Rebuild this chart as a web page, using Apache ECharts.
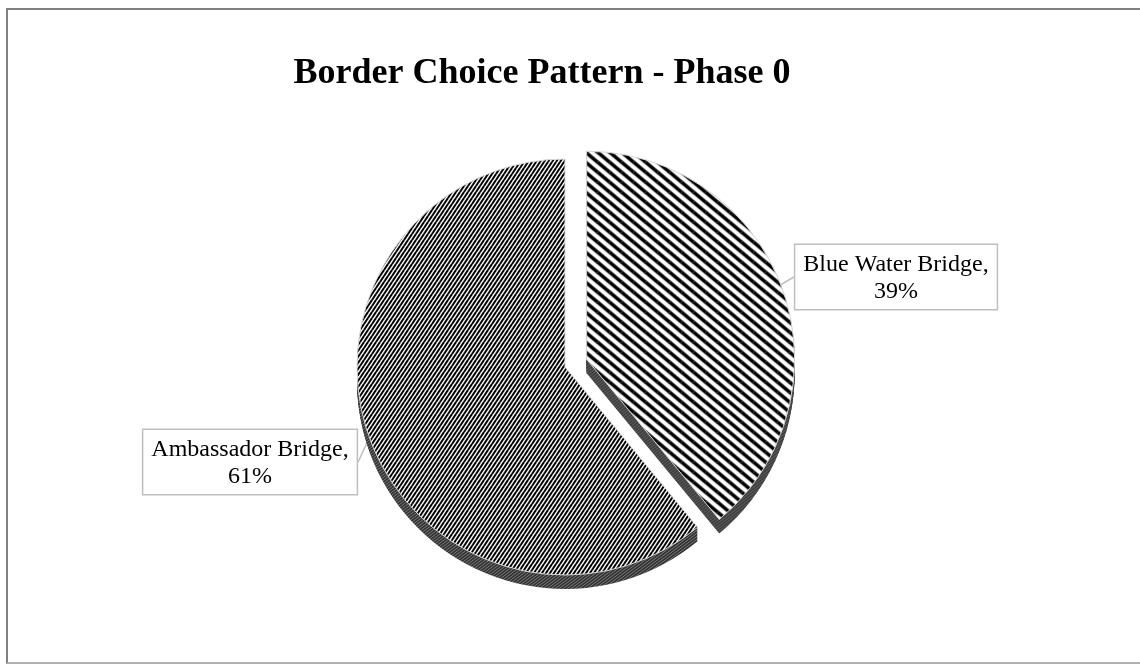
<!DOCTYPE html>
<html>
<head>
<meta charset="utf-8">
<script src="https://cdn.jsdelivr.net/npm/echarts@6/dist/echarts.min.js"></script>
<style>
  html, body { margin: 0; padding: 0; background: #fff; }
  #frame {
    position: absolute; left: 6px; top: 8px; width: 1140px; height: 652px;
    border-left: 2px solid #808080; border-top: 2px solid #808080; border-bottom: 2px solid #b0b0b0;
  }
  #chart { position: absolute; left: 0; top: 0; width: 1140px; height: 664px; }
</style>
</head>
<body>
<div id="frame"></div>
<div id="chart"></div>
<script>
// Border crossing shares, phase 0
const chartTitle = 'Border Choice Pattern - Phase 0';
const categories = ['Blue Water Bridge', 'Ambassador Bridge'];
const shares = [39, 61];

// Striped fill built on a small repeating tile
function stripeTile(w, h, bg, fg, lw, rising) {
  const c = document.createElement('canvas');
  c.width = w; c.height = h;
  const g = c.getContext('2d');
  g.fillStyle = bg; g.fillRect(0, 0, w, h);
  g.strokeStyle = fg; g.lineWidth = lw;
  for (let dx = -1; dx <= 1; dx++) {
    for (let dy = -1; dy <= 1; dy++) {
      g.beginPath();
      if (rising) { g.moveTo(dx * w, h + dy * h); g.lineTo(w + dx * w, dy * h); }
      else { g.moveTo(dx * w, dy * h); g.lineTo(w + dx * w, h + dy * h); }
      g.stroke();
    }
  }
  return { image: c, repeat: 'repeat' };
}

const topFills = [
  stripeTile(12, 10, '#ffffff', '#000000', 3.6, false),
  stripeTile(4, 6, '#ffffff', '#000000', 2.0, true)
];
const sideFill = stripeTile(4, 3, '#333333', '#808080', 0.9, true);

const cx = 565, cy = 367, R = 208, depth = 14, explode = 23;

const series = [];

// callout labels (drawn underneath the pie so the leader starts at the rim)
series.push({
  type: 'pie', silent: true, animation: false, z: 1,
  center: [cx, cy], radius: R, startAngle: 90, clockwise: true,
  avoidLabelOverlap: false,
  emphasis: { disabled: true },
  itemStyle: { color: 'rgba(0,0,0,0)', borderWidth: 0 },
  label: {
    show: true, position: 'outside',
    formatter: p => p.name + ',\n' + p.value + '%',
    fontFamily: 'Liberation Serif', fontSize: 24, lineHeight: 27, color: '#000',
    align: 'center',
    backgroundColor: '#fff', borderColor: '#bfbfbf', borderWidth: 1.5,
    padding: [6, 8, 4, 8]
  },
  labelLine: { show: true, length: 6, length2: 0, lineStyle: { color: '#bfbfbf', width: 1.5 } },
  labelLayout: p => (p.dataIndex === 0
    ? { x: 896, y: 245, align: 'center', verticalAlign: 'top' }
    : { x: 250, y: 430, align: 'center', verticalAlign: 'top' }),
  data: categories.map((name, i) => ({ name, value: shares[i] }))
});

const pieData = categories.map((name, i) => ({ name, value: shares[i], selected: i === 0 }));

// side walls: stacked copies of the pie shifted downward
for (let k = depth; k >= 1; k--) {
  series.push({
    type: 'pie', silent: true, animation: false, z: 2,
    center: [cx, cy + k], radius: R, startAngle: 90, clockwise: true,
    selectedMode: 'single', selectedOffset: explode,
    label: { show: false }, labelLine: { show: false },
    emphasis: { disabled: true },
    itemStyle: { color: sideFill, borderWidth: 0 },
    data: pieData.map(d => ({ ...d }))
  });
}
// top faces
series.push({
  type: 'pie', silent: true, animation: false, z: 3,
  center: [cx, cy], radius: R, startAngle: 90, clockwise: true,
  selectedMode: 'single', selectedOffset: explode,
  emphasis: { disabled: true },
  label: { show: false }, labelLine: { show: false },
  itemStyle: { borderColor: '#d8d8d8', borderWidth: 1 },
  data: pieData.map((d, i) => ({ ...d, itemStyle: { color: topFills[i] } }))
});

const chart = echarts.init(document.getElementById('chart'), null, { renderer: 'canvas' });
chart.setOption({
  animation: false,
  backgroundColor: 'transparent',
  title: {
    text: chartTitle, left: 537, top: 51, textAlign: 'center',
    textStyle: { fontFamily: 'Liberation Serif', fontWeight: 'bold', fontSize: 36, color: '#000' }
  },
  series
});
</script>
</body>
</html>
